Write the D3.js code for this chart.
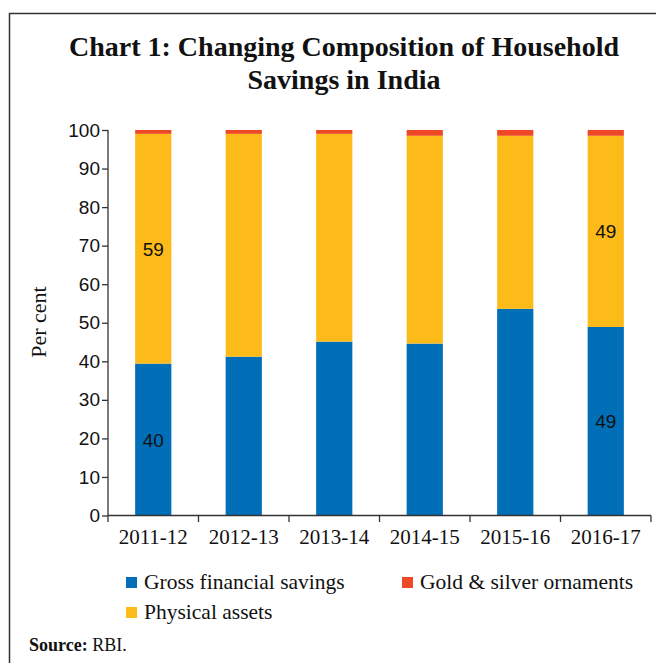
<!DOCTYPE html>
<html>
<head>
<meta charset="utf-8">
<script src="https://cdn.jsdelivr.net/npm/d3@7"></script>
<style>
	body { margin: 0; background: #fff; }
	svg { display: block; }
	.title { font-family: 'Liberation Serif', serif; font-weight: bold; font-size: 28px; fill: #111; }
	.tick text { font-family: 'Liberation Sans', sans-serif; font-size: 19px; fill: #111; }
	.xlab { font-family: 'Liberation Serif', serif; font-size: 21px; fill: #111; }
	.ytitle { font-family: 'Liberation Serif', serif; font-size: 22px; fill: #111; }
	.lbl { font-family: 'Liberation Sans', sans-serif; font-size: 19px; fill: #111; }
	.legend text { font-family: 'Liberation Serif', serif; font-size: 21.5px; fill: #111; }
</style>
</head>
<body>
<svg width="656" height="663"></svg>
<script>
// NOTE data
const years = ['2011-12', '2012-13', '2013-14', '2014-15', '2015-16', '2016-17'];
const financial = [39.4, 41.2, 45.1, 44.6, 53.6, 48.9];
const physical = [59.6, 57.8, 53.9, 53.9, 44.9, 49.6];
const gold = [1.0, 1.0, 1.0, 1.5, 1.5, 1.5];
const yTicks = [0, 10, 20, 30, 40, 50, 60, 70, 80, 90, 100];
// value labels printed on the bars: [year index, series, text]
const barLabels = [
	[0, 'financial', '40'],
	[0, 'physical', '59'],
	[5, 'financial', '49'],
	[5, 'physical', '49'],
];

const series = [
	{ key: 'financial', name: 'Gross financial savings', color: '#006fb8', values: financial },
	{ key: 'physical', name: 'Physical assets', color: '#fdbb19', values: physical },
	{ key: 'gold', name: 'Gold & silver ornaments', color: '#ef4826', values: gold },
];

const svg = d3.select('svg');

// frame
svg.append('path')
	.attr('d', 'M9.5,663 V13.5 H656')
	.attr('fill', 'none')
	.attr('stroke', '#333')
	.attr('stroke-width', 1.5);

// title
svg.append('text').attr('class', 'title').attr('x', 344).attr('y', 56)
	.attr('text-anchor', 'middle').text('Chart 1: Changing Composition of Household');
svg.append('text').attr('class', 'title').attr('x', 344).attr('y', 89)
	.attr('text-anchor', 'middle').text('Savings in India');

const x = d3.scaleBand().domain(years).range([108, 651]).paddingInner(0.6).paddingOuter(0.3);
const y = d3.scaleLinear().domain([0, 100]).range([515.5, 130]);

// stack the series
const rows = years.map((yr, i) => {
	const r = { year: yr };
	series.forEach((s) => { r[s.key] = s.values[i]; });
	return r;
});
const stacked = d3.stack().keys(series.map((s) => s.key))(rows);

svg.append('g')
	.selectAll('g')
	.data(stacked)
	.enter()
	.append('g')
	.attr('fill', (d, i) => series[i].color)
	.selectAll('rect')
	.data((d) => d)
	.enter()
	.append('rect')
	.attr('x', (d) => x(d.data.year))
	.attr('width', x.bandwidth())
	.attr('y', (d) => y(d[1]))
	.attr('height', (d) => y(d[0]) - y(d[1]));

// y axis
const yAxis = svg.append('g')
	.attr('transform', 'translate(108,0)')
	.call(d3.axisLeft(y).tickValues(yTicks).tickSize(6).tickPadding(2));
yAxis.selectAll('line, path').attr('stroke', '#333').attr('stroke-width', 1.3);
yAxis.select('.domain').attr('d', 'M0,130V515.5');

// x axis
const step = x.step();
const bounds = years.map((d) => x(d) + x.bandwidth() / 2 - step / 2).concat([651]);
svg.append('line')
	.attr('x1', 108).attr('x2', 651).attr('y1', 515.5).attr('y2', 515.5)
	.attr('stroke', '#333').attr('stroke-width', 1.3);
svg.append('g')
	.selectAll('line')
	.data(bounds)
	.enter()
	.append('line')
	.attr('x1', (d) => d).attr('x2', (d) => d)
	.attr('y1', 515.5).attr('y2', 522)
	.attr('stroke', '#333').attr('stroke-width', 1.3);
svg.append('g')
	.selectAll('text')
	.data(years)
	.enter()
	.append('text')
	.attr('class', 'xlab')
	.attr('x', (d) => x(d) + x.bandwidth() / 2)
	.attr('y', 544)
	.attr('text-anchor', 'middle')
	.text((d) => d);

// y title
svg.append('text')
	.attr('class', 'ytitle')
	.attr('transform', 'translate(46,322) rotate(-90)')
	.attr('text-anchor', 'middle')
	.text('Per cent');

// bar value labels
barLabels.forEach(([i, key, txt]) => {
	const layer = stacked.find((s) => s.key === key)[i];
	svg.append('text')
		.attr('class', 'lbl')
		.attr('x', x(years[i]) + x.bandwidth() / 2)
		.attr('y', (y(layer[0]) + y(layer[1])) / 2 + 7)
		.attr('text-anchor', 'middle')
		.text(txt);
});

// legend
const legendPos = [[126, 577], [126, 607], [402, 577]];
const legend = svg.append('g').attr('class', 'legend');
series.forEach((s, i) => {
	const [lx, ly] = legendPos[i];
	legend.append('rect').attr('x', lx).attr('y', ly).attr('width', 11).attr('height', 11).attr('fill', s.color);
	legend.append('text').attr('x', lx + 18).attr('y', ly + 12).text(s.name);
});

// source
const src = svg.append('text')
	.attr('x', 29).attr('y', 651)
	.style('font-family', "'Liberation Serif', serif")
	.style('font-size', '18px')
	.attr('fill', '#111');
src.append('tspan').style('font-weight', 'bold').text('Source: ');
src.append('tspan').text('RBI.');
</script>
</body>
</html>
